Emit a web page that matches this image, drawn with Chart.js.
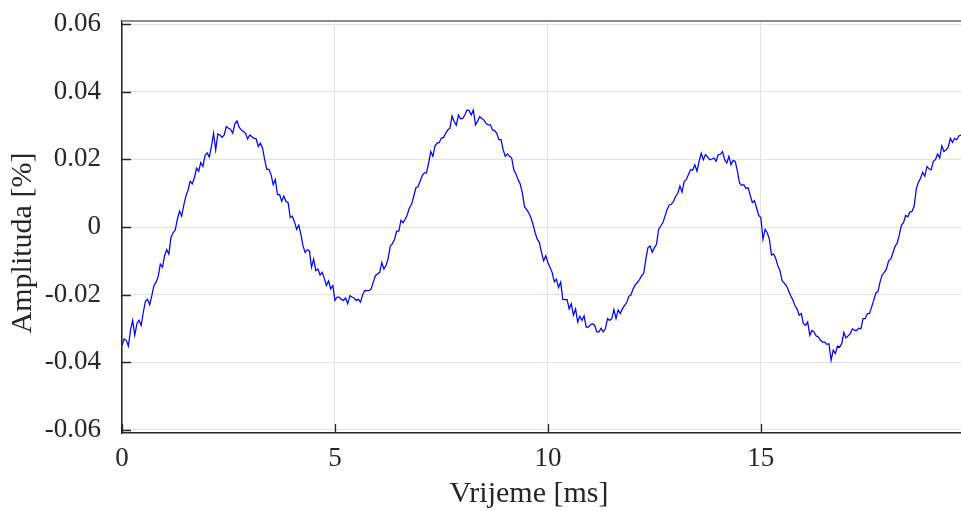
<!DOCTYPE html>
<html lang="hr">
<head>
<meta charset="UTF-8">
<title>Amplituda signala</title>
<script src="https://cdn.jsdelivr.net/npm/chart.js"></script>
<style>
  html, body { margin: 0; padding: 0; background: #fff; }
  #okvir { width: 961px; height: 511px; }
</style>
</head>
<body>
<div id="okvir"><canvas id="grafik"></canvas></div>
<script>
// uzorci svakih 0.05 ms, ocitano sa slike
const korak = 0.05;
const amplituda0do5 = [
  -0.0350, -0.0331, -0.0335, -0.0352, -0.0305, -0.0276, -0.0320, -0.0286, -0.0276, -0.0291,
  -0.0252, -0.0220, -0.0214, -0.0230, -0.0203, -0.0173, -0.0163, -0.0146, -0.0110, -0.0119,
  -0.0085, -0.0067, -0.0080, -0.0030, -0.0017, -0.0009, 0.0023, 0.0047, 0.0032, 0.0064,
  0.0091, 0.0109, 0.0135, 0.0128, 0.0145, 0.0174, 0.0165, 0.0191, 0.0179, 0.0211,
  0.0219, 0.0207, 0.0238, 0.0277, 0.0228, 0.0275, 0.0272, 0.0265, 0.0272, 0.0297,
  0.0292, 0.0289, 0.0277, 0.0305, 0.0314, 0.0295, 0.0287, 0.0282, 0.0277, 0.0260,
  0.0272, 0.0267, 0.0262, 0.0261, 0.0238, 0.0248, 0.0233, 0.0199, 0.0170, 0.0170,
  0.0155, 0.0125, 0.0140, 0.0096, 0.0096, 0.0076, 0.0091, 0.0076, 0.0072, 0.0028,
  0.0032, 0.0015, -0.0007, 0.0005, -0.0021, -0.0056, -0.0075, -0.0067, -0.0070, -0.0119,
  -0.0095, -0.0129, -0.0124, -0.0142, -0.0134, -0.0152, -0.0173, -0.0159, -0.0183, -0.0173
];
const amplituda5do10 = [
  -0.0217, -0.0207, -0.0207, -0.0214, -0.0217, -0.0210, -0.0227, -0.0203, -0.0207, -0.0210,
  -0.0217, -0.0214, -0.0222, -0.0200, -0.0188, -0.0188, -0.0188, -0.0183, -0.0163, -0.0144,
  -0.0139, -0.0134, -0.0105, -0.0124, -0.0114, -0.0093, -0.0056, -0.0049, -0.0036, -0.0012,
  -0.0012, 0.0020, 0.0013, 0.0023, 0.0037, 0.0057, 0.0067, 0.0091, 0.0116, 0.0119,
  0.0135, 0.0152, 0.0160, 0.0160, 0.0189, 0.0223, 0.0209, 0.0240, 0.0248, 0.0250,
  0.0263, 0.0265, 0.0277, 0.0287, 0.0292, 0.0328, 0.0312, 0.0301, 0.0331, 0.0320,
  0.0321, 0.0331, 0.0346, 0.0344, 0.0331, 0.0346, 0.0302, 0.0313, 0.0326, 0.0321,
  0.0316, 0.0306, 0.0302, 0.0302, 0.0287, 0.0285, 0.0277, 0.0258, 0.0258, 0.0228,
  0.0209, 0.0216, 0.0209, 0.0204, 0.0169, 0.0157, 0.0140, 0.0127, 0.0101, 0.0060,
  0.0052, 0.0042, 0.0028, 0.0008, -0.0017, -0.0036, -0.0046, -0.0075, -0.0100, -0.0085
];
const amplituda10do15 = [
  -0.0105, -0.0119, -0.0134, -0.0162, -0.0154, -0.0179, -0.0163, -0.0214, -0.0215, -0.0214,
  -0.0242, -0.0227, -0.0261, -0.0242, -0.0281, -0.0264, -0.0276, -0.0263, -0.0296, -0.0296,
  -0.0289, -0.0286, -0.0291, -0.0310, -0.0310, -0.0299, -0.0310, -0.0301, -0.0271, -0.0276,
  -0.0271, -0.0244, -0.0271, -0.0245, -0.0256, -0.0242, -0.0232, -0.0224, -0.0205, -0.0201,
  -0.0183, -0.0171, -0.0164, -0.0156, -0.0144, -0.0137, -0.0095, -0.0061, -0.0056, -0.0075,
  -0.0061, -0.0051, -0.0007, 0.0003, 0.0013, 0.0032, 0.0052, 0.0065, 0.0067, 0.0076,
  0.0091, 0.0099, 0.0121, 0.0103, 0.0135, 0.0140, 0.0155, 0.0170, 0.0168, 0.0184,
  0.0165, 0.0194, 0.0218, 0.0199, 0.0214, 0.0207, 0.0199, 0.0201, 0.0204, 0.0194,
  0.0214, 0.0215, 0.0223, 0.0199, 0.0189, 0.0209, 0.0184, 0.0197, 0.0194, 0.0165,
  0.0130, 0.0123, 0.0125, 0.0114, 0.0116, 0.0095, 0.0072, 0.0078, 0.0057, 0.0034
];
const amplituda15do20 = [
  0.0028, -0.0036, -0.0007, -0.0017, -0.0036, -0.0083, -0.0080, -0.0093, -0.0115, -0.0129,
  -0.0159, -0.0166, -0.0174, -0.0188, -0.0203, -0.0215, -0.0232, -0.0242, -0.0261, -0.0256,
  -0.0286, -0.0291, -0.0281, -0.0320, -0.0306, -0.0310, -0.0322, -0.0325, -0.0335, -0.0340,
  -0.0340, -0.0347, -0.0345, -0.0394, -0.0364, -0.0374, -0.0352, -0.0355, -0.0345, -0.0312,
  -0.0328, -0.0322, -0.0315, -0.0301, -0.0305, -0.0306, -0.0299, -0.0301, -0.0271, -0.0271,
  -0.0256, -0.0256, -0.0237, -0.0217, -0.0195, -0.0191, -0.0162, -0.0141, -0.0134, -0.0124,
  -0.0100, -0.0095, -0.0077, -0.0058, -0.0048, -0.0025, 0.0005, 0.0013, 0.0034, 0.0030,
  0.0044, 0.0046, 0.0062, 0.0113, 0.0132, 0.0144, 0.0162, 0.0150, 0.0179, 0.0172,
  0.0169, 0.0194, 0.0199, 0.0216, 0.0204, 0.0240, 0.0223, 0.0228, 0.0236, 0.0262,
  0.0250, 0.0262, 0.0258, 0.0269, 0.0272
];
const xOznake = [0, 5, 10, 15];
const yOznake = [-0.06, -0.04, -0.02, 0, 0.02, 0.04, 0.06];
const xNaslov = "Vrijeme [ms]";
const yNaslov = "Amplituda [%]";

const amplituda = amplituda0do5.concat(amplituda5do10, amplituda10do15, amplituda15do20);
const tocke = amplituda.map((v, i) => ({ x: +(i * korak).toFixed(2), y: v }));

const boja = "#262626";
const font = "'Liberation Serif', 'Times New Roman', serif";

// okvir, unutarnje crtice i naslovi osi
const okvirPlugin = {
  id: "okvir",
  afterDraw(chart) {
    const c = chart.ctx, a = chart.chartArea;
    const sx = chart.scales.x, sy = chart.scales.y;
    c.save();
    c.strokeStyle = "#8c8c8c";
    c.lineWidth = 2;
    c.beginPath();
    c.moveTo(a.left, a.top);
    c.lineTo(a.right, a.top);
    c.stroke();
    c.strokeStyle = boja;
    c.lineWidth = 1.3;
    c.beginPath();
    xOznake.forEach((v) => {
      const px = Math.round(sx.getPixelForValue(v)) + 0.5;
      c.moveTo(px, a.bottom);
      c.lineTo(px, a.bottom - 9);
    });
    yOznake.forEach((v) => {
      const py = Math.round(sy.getPixelForValue(v)) + 0.5;
      c.moveTo(a.left, py);
      c.lineTo(a.left + 9, py);
    });
    c.stroke();
    c.fillStyle = boja;
    c.font = "30px " + font;
    c.textAlign = "center";
    c.textBaseline = "middle";
    c.fillText(xNaslov, 529, 494);
    c.translate(23, 243);
    c.rotate(-Math.PI / 2);
    c.fillText(yNaslov, 0, 0);
    c.restore();
  }
};

new Chart(document.getElementById("grafik"), {
  type: "line",
  data: {
    datasets: [{
      data: tocke,
      borderColor: "#0000ff",
      borderWidth: 1.25,
      pointRadius: 0,
      tension: 0,
      fill: false
    }]
  },
  options: {
    responsive: true,
    maintainAspectRatio: false,
    animation: false,
    layout: { padding: { top: 21, left: 0, right: 0, bottom: 0 } },
    plugins: { legend: { display: false }, tooltip: { enabled: false } },
    scales: {
      x: {
        type: "linear",
        min: 0,
        max: 19.7,
        afterBuildTicks: (s) => { s.ticks = xOznake.map((v) => ({ value: v })); },
        afterFit: (s) => { s.height = 78; s.paddingLeft = 0; s.paddingRight = 0; },
        grid: { color: "#e3e3e3", lineWidth: 1, drawTicks: false },
        border: { color: boja, width: 1.5 },
        ticks: { color: boja, font: { family: font, size: 27 }, padding: 10, maxRotation: 0 }
      },
      y: {
        type: "linear",
        min: -0.0609,
        max: 0.0609,
        afterBuildTicks: (s) => { s.ticks = yOznake.map((v) => ({ value: v })); },
        afterFit: (s) => { s.width = 122; s.paddingTop = 0; s.paddingBottom = 0; },
        grid: { color: "#e3e3e3", lineWidth: 1, drawTicks: false },
        border: { color: boja, width: 1.5 },
        ticks: { color: boja, font: { family: font, size: 27 }, padding: 21, callback: (v) => String(v) }
      }
    }
  },
  plugins: [okvirPlugin]
});
</script>
</body>
</html>
